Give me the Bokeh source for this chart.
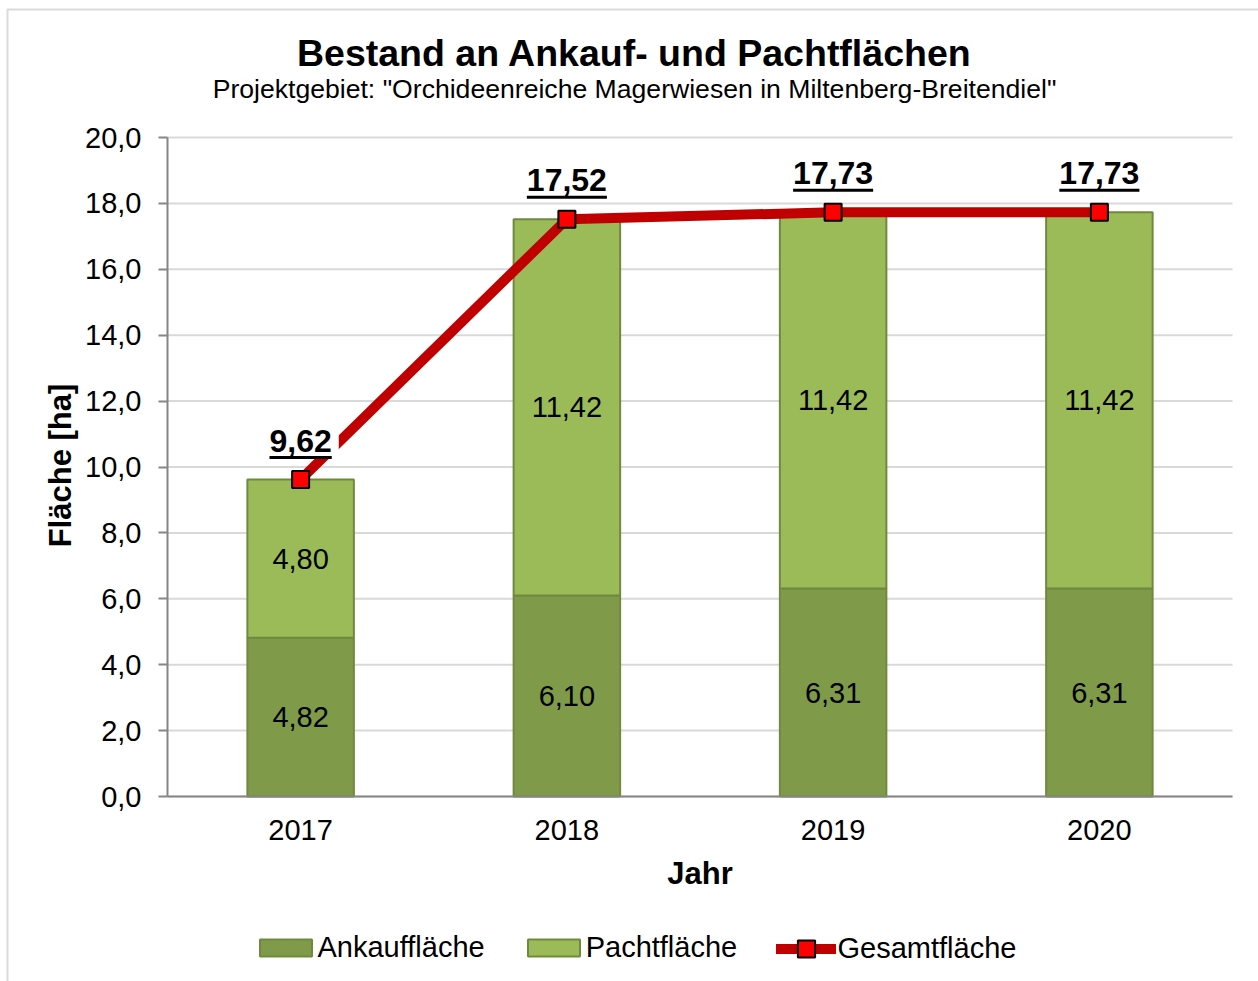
import math
from bokeh.plotting import figure
from bokeh.models import (ColumnDataSource, Range1d, FixedTicker, CustomJSTickFormatter,
                          Legend, LegendItem, Label, BoxAnnotation)
from bokeh.core.properties import value
from bokeh.embed import file_html
from bokeh.resources import INLINE

# ---------------- data ----------------
years = ["2017", "2018", "2019", "2020"]
ankauf = [4.82, 6.10, 6.31, 6.31]
pacht = [4.80, 11.42, 11.42, 11.42]
gesamt = [9.62, 17.52, 17.73, 17.73]
y_ticks = [0, 2, 4, 6, 8, 10, 12, 14, 16, 18, 20]

title_text = "Bestand an Ankauf- und Pachtflächen"
subtitle_text = 'Projektgebiet: "Orchideenreiche Magerwiesen in Miltenberg-Breitendiel"'
x_label = "Jahr"
y_label = "Fläche [ha]"
series_names = ["Ankauffläche", "Pachtfläche", "Gesamtfläche"]

# ---------------- style / layout ----------------
FONT = "Liberation Sans"
DARK = "#7f9a48"
LIGHT = "#9bbb59"
EDGE = "#71893f"
RED = "#c00000"
AXIS = "#868686"
GRID = "#d9d9d9"
BORDER = "#888888"

W, H = 1258, 981
AREA_LEFT_PX = 167      # left edge of plot area
AREA_BOTTOM_PX = 796    # y = 0
CAT_PX = 266.25         # pixels per category
PPU = 32.95             # pixels per y unit
TOT_FS = 32

n = len(years)
x_lo, x_hi = -0.5, n - 0.5
y_lo, y_hi = y_ticks[0], y_ticks[-1]


def px2x(px):
    return x_lo + (px - AREA_LEFT_PX) / CAT_PX


def px2y(py):
    return (AREA_BOTTOM_PX - py) / PPU


def fmt(v):
    return f"{v:.2f}".replace(".", ",")


def text_w(s, fs):
    return sum(0.278 if c == "," else 0.556 for c in s) * fs


idx = list(range(n))
src = ColumnDataSource(dict(
    x=idx,
    year=years,
    ankauf=ankauf,
    pacht=pacht,
    gesamt=gesamt,
    ankauf_mid=[a / 2 for a in ankauf],
    pacht_mid=[a + q / 2 for a, q in zip(ankauf, pacht)],
    ankauf_lbl=[fmt(v) for v in ankauf],
    pacht_lbl=[fmt(v) for v in pacht],
    gesamt_lbl=[fmt(v) for v in gesamt],
    uline_y=[g + 22 / PPU for g in gesamt],
    uline_w=[text_w(fmt(v), TOT_FS) for v in gesamt],
))

p = figure(x_range=Range1d(px2x(0), px2x(W)), y_range=Range1d(px2y(H), px2y(0)),
           width=W, height=H, output_backend="svg", toolbar_location=None,
           title=None, min_border=0)
p.min_border_left = p.min_border_right = p.min_border_top = p.min_border_bottom = 0
p.outline_line_color = None
p.background_fill_color = "white"
p.border_fill_color = "white"
p.xgrid.grid_line_color = None
p.ygrid.grid_line_color = None

# chart border
p.add_layout(BoxAnnotation(left=px2x(7), right=px2x(W + 10), top=px2y(9), bottom=px2y(H + 10),
                           fill_alpha=0, line_color=BORDER, line_width=2))

# horizontal grid lines over the plot area
p.segment(x0=[x_lo] * len(y_ticks), x1=[x_hi] * len(y_ticks), y0=y_ticks, y1=y_ticks,
          line_color=GRID, line_width=2)

# bars
bars = p.vbar_stack(["ankauf", "pacht"], x="x", width=0.4, source=src,
                    fill_color=[DARK, LIGHT], line_color=[EDGE, EDGE], line_width=2)

lbl_kw = dict(text_align="center", text_baseline="middle",
              text_font=value(FONT), text_font_size="29px", text_color="black")
p.text(x="x", y="ankauf_mid", text="ankauf_lbl", source=src, **lbl_kw)
p.text(x="x", y="pacht_mid", text="pacht_lbl", source=src, **lbl_kw)

# total line
line_r = p.line(x="x", y="gesamt", source=src, line_color=RED, line_width=10,
                line_cap="round", line_join="round")

# total labels with white background + underline
p.text(x="x", y="gesamt", text="gesamt_lbl", source=src, y_offset=-39,
       text_align="center", text_baseline="middle", text_font=value(FONT),
       text_font_size=f"{TOT_FS}px", text_font_style="bold", text_color="black",
       background_fill_color="white", padding=7)
p.rect(x="x", y="uline_y", width="uline_w", height=3, source=src,
       width_units="screen", height_units="screen", fill_color="black",
       line_color=None)

marker_r = p.scatter(x="x", y="gesamt", source=src, marker="square", size=17,
                     fill_color="#ff0000", line_color="black", line_width=2)

# axes (fixed at the plot-area edges)
xa = p.xaxis[0]
ya = p.yaxis[0]
xa.fixed_location = y_lo
ya.fixed_location = x_lo
xa.bounds = (x_lo, x_hi)
ya.bounds = (y_lo, y_hi)
xa.ticker = FixedTicker(ticks=idx)
xa.formatter = CustomJSTickFormatter(args=dict(years=years),
                                     code="return years[Math.round(tick)];")
ya.ticker = FixedTicker(ticks=y_ticks)
ya.formatter = CustomJSTickFormatter(code="return tick.toFixed(1).replace('.', ',');")
for ax in (xa, ya):
    ax.axis_line_color = AXIS
    ax.axis_line_width = 2
    ax.major_tick_line_color = AXIS
    ax.major_tick_line_width = 2
    ax.minor_tick_line_color = None
    ax.major_label_text_font = FONT
    ax.major_label_text_font_size = "29px"
    ax.major_label_text_color = "black"
ya.major_tick_out = 9
ya.major_tick_in = 0
ya.major_label_standoff = 17
xa.major_tick_out = 0
xa.major_tick_in = 0
xa.major_label_standoff = 23

# titles and axis titles
p.add_layout(Label(x=px2x(634), y=px2y(52), text=title_text, text_align="center",
                   text_baseline="middle", text_font=FONT, text_font_size="37.5px",
                   text_font_style="bold", text_color="black"))
p.add_layout(Label(x=px2x(634), y=px2y(88), text=subtitle_text, text_align="center",
                   text_baseline="middle", text_font=FONT, text_font_size="26.6px",
                   text_color="black"))
p.add_layout(Label(x=(x_lo + x_hi) / 2, y=px2y(873), text=x_label, text_align="center",
                   text_baseline="middle", text_font=FONT, text_font_size="31px",
                   text_font_style="bold", text_color="black"))
p.add_layout(Label(x=px2x(60), y=px2y(465), text=y_label, angle=math.pi / 2,
                   text_align="center", text_baseline="middle", text_font=FONT,
                   text_font_size="31px", text_font_style="bold", text_color="black"))

# legends
def style_legend(lg):
    lg.label_text_font = FONT
    lg.label_text_font_size = "29px"
    lg.label_text_color = "black"
    lg.padding = 0
    lg.margin = 0
    lg.border_line_color = None
    lg.background_fill_alpha = 0


leg1 = Legend(items=[
    LegendItem(label=series_names[0], renderers=[bars[0]]),
    LegendItem(label=series_names[1], renderers=[bars[1]]),
], orientation="horizontal", location=(252.5, 17))
style_legend(leg1)
leg1.glyph_width = 65
leg1.glyph_height = 21
leg1.label_standoff = 0
leg1.spacing = 36
p.add_layout(leg1, "center")

leg2 = Legend(items=[
    LegendItem(label=series_names[2], renderers=[line_r, marker_r]),
], orientation="horizontal", location=(775.5, 11.5))
style_legend(leg2)
leg2.glyph_width = 60
leg2.glyph_height = 43
leg2.label_standoff = 2
p.add_layout(leg2, "center")

open("out.html", "w").write(file_html(p, INLINE))
